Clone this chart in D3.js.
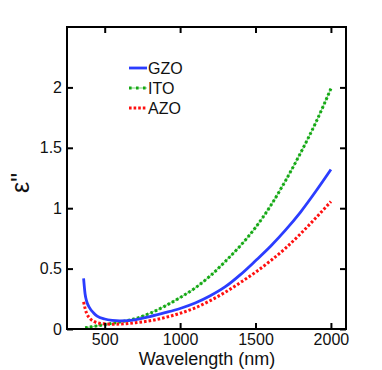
<!DOCTYPE html>
<html>
<head>
<meta charset="utf-8">
<script src="https://cdn.jsdelivr.net/npm/d3@7"></script>
<style>
html,body{margin:0;padding:0;background:#fff;}
svg{display:block;font-family:"Liberation Sans",Arial,sans-serif;}
</style>
</head>
<body>
<svg id="chart" width="382" height="370"></svg>
<script>
// Data (wavelength in nm, epsilon'')
const gzoWl = [360,370,380,400,425,450,500,550,600,700,800,900,1000,1100,1200,1300,1400,1500,1600,1700,1800,1900,2000];
const gzoVal = [0.42,0.29,0.23,0.175,0.135,0.107,0.083,0.072,0.068,0.076,0.103,0.135,0.17,0.215,0.275,0.35,0.45,0.565,0.685,0.82,0.97,1.14,1.32];
const itoWl = [370,400,450,500,550,600,700,800,900,1000,1100,1200,1300,1400,1500,1600,1700,1800,1900,2000];
const itoVal = [0.01,0.016,0.026,0.037,0.047,0.058,0.085,0.13,0.19,0.26,0.34,0.44,0.56,0.69,0.84,1.02,1.23,1.46,1.71,1.99];
const azoWl = [360,370,380,400,425,450,500,550,600,700,800,900,1000,1100,1200,1300,1400,1500,1600,1700,1800,1900,2000];
const azoVal = [0.225,0.17,0.13,0.09,0.065,0.052,0.043,0.04,0.041,0.052,0.068,0.095,0.13,0.175,0.235,0.305,0.385,0.47,0.565,0.67,0.79,0.92,1.055];
const seriesNames = ["GZO","ITO","AZO"];
const xTicks = [500,1000,1500,2000];
const yTicks = [0,0.5,1,1.5,2];
const xLabel = "Wavelength (nm)";
const yLabel = "ε\"";

const svg = d3.select("#chart");
const L = 67, T = 27, R = 346, B = 329;
const x = d3.scaleLinear().domain([250,2100]).range([L,R]);
const y = d3.scaleLinear().domain([0,2.5]).range([B,T]);

const zip = (a,b) => a.map((w,i)=>[w,b[i]]);
const line = d3.line().x(d=>x(d[0])).y(d=>y(d[1])).curve(d3.curveMonotoneX);

const colBlue = "#2b3dff", colGreen = "#14a814", colGreenLight = "#8fd88f", colRed = "#ff1010";
const textCol = "#111";

// curves
const g = svg.append("g");
g.append("path").attr("d", line(zip(itoWl,itoVal))).attr("fill","none")
  .attr("stroke",colGreenLight).attr("stroke-width",1.2);
g.append("path").attr("d", line(zip(itoWl,itoVal))).attr("fill","none")
  .attr("stroke",colGreen).attr("stroke-width",3).attr("stroke-dasharray","2.6,2.2");
g.append("path").attr("d", line(zip(azoWl,azoVal))).attr("fill","none")
  .attr("stroke",colRed).attr("stroke-width",3).attr("stroke-dasharray","2.6,2");
g.append("path").attr("d", line(zip(gzoWl,gzoVal))).attr("fill","none")
  .attr("stroke",colBlue).attr("stroke-width",2.8);

// axes
function styleAxis(sel, showLabels){
  sel.select(".domain").remove();
  sel.selectAll(".tick line").attr("stroke","#000").attr("stroke-width",2);
  sel.selectAll(".tick text").attr("font-size","16px").attr("fill",textCol)
     .attr("font-family","'Liberation Sans',Arial,sans-serif");
  if(!showLabels) sel.selectAll(".tick text").remove();
}
svg.append("g").attr("transform",`translate(0,${B})`)
  .call(d3.axisBottom(x).tickValues(xTicks).tickSizeInner(-6).tickSizeOuter(0).tickPadding(5).tickFormat(d3.format("d")))
  .call(s=>styleAxis(s,true));
svg.append("g").attr("transform",`translate(0,${T})`)
  .call(d3.axisTop(x).tickValues(xTicks).tickSizeInner(-6).tickSizeOuter(0))
  .call(s=>styleAxis(s,false));
svg.append("g").attr("transform",`translate(${L},0)`)
  .call(d3.axisLeft(y).tickValues(yTicks).tickSizeInner(-6).tickSizeOuter(0).tickPadding(5).tickFormat(d=>String(d)))
  .call(s=>styleAxis(s,true));
svg.append("g").attr("transform",`translate(${R},0)`)
  .call(d3.axisRight(y).tickValues(yTicks).tickSizeInner(-6).tickSizeOuter(0))
  .call(s=>styleAxis(s,false));

// frame
svg.append("rect").attr("x",L).attr("y",T).attr("width",R-L).attr("height",B-T)
  .attr("fill","none").attr("stroke","#000").attr("stroke-width",2);

// axis labels
svg.append("text").attr("x",207).attr("y",365).attr("text-anchor","middle")
  .attr("font-size","18px").attr("fill",textCol).text(xLabel);
svg.append("text").attr("transform","translate(29,183) rotate(-90)").attr("text-anchor","middle")
  .attr("font-size","25px").attr("fill",textCol).text(yLabel);

// legend
const legY = [68,88,108];
const leg = svg.append("g");
// GZO
leg.append("line").attr("x1",129).attr("x2",147).attr("y1",legY[0]).attr("y2",legY[0])
  .attr("stroke",colBlue).attr("stroke-width",2.8);
// ITO
leg.append("line").attr("x1",129).attr("x2",147).attr("y1",legY[1]).attr("y2",legY[1])
  .attr("stroke",colGreenLight).attr("stroke-width",1.2);
leg.append("line").attr("x1",129).attr("x2",147).attr("y1",legY[1]).attr("y2",legY[1])
  .attr("stroke",colGreen).attr("stroke-width",3).attr("stroke-dasharray","2.6,4.4");
// AZO
leg.append("line").attr("x1",129).attr("x2",147).attr("y1",legY[2]).attr("y2",legY[2])
  .attr("stroke",colRed).attr("stroke-width",3).attr("stroke-dasharray","2.6,2");
seriesNames.forEach((n,i)=>{
  leg.append("text").attr("x",148).attr("y",legY[i]).attr("dy","0.36em")
    .attr("font-size","16px").attr("fill",textCol).text(n);
});
</script>
</body>
</html>
